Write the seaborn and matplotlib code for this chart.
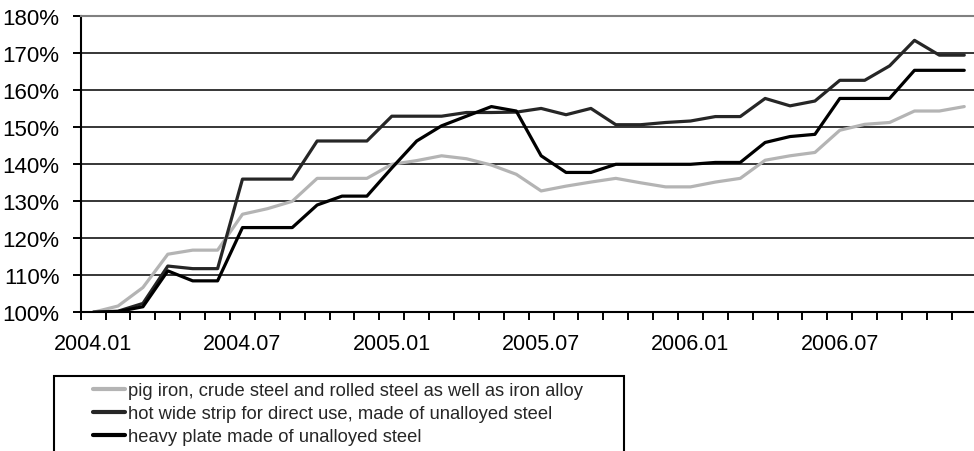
import numpy as np
import pandas as pd
import matplotlib
matplotlib.use('Agg')
import matplotlib.pyplot as plt
import seaborn as sns
from matplotlib.patches import Rectangle
from matplotlib.ticker import FuncFormatter


# data (index, 2004.01 = 100%)
months = [f'{y}.{m:02d}' for y in (2004, 2005, 2006) for m in range(1, 13)]

pig_iron = [100.0, 101.7, 106.7, 115.7, 116.8, 116.8, 126.5, 128.0, 130.0, 136.2, 136.2, 136.2,
            140.0, 141.0, 142.3, 141.5, 139.8, 137.3, 132.8, 134.1, 135.2, 136.2, 135.0, 133.9,
            133.9, 135.2, 136.2, 141.1, 142.3, 143.2, 149.2, 150.8, 151.3, 154.4, 154.4, 155.6]

hot_strip = [100.0, 100.3, 102.4, 112.5, 111.8, 111.8, 136.0, 136.0, 136.0, 146.3, 146.3, 146.3,
             153.0, 153.0, 153.0, 154.0, 154.0, 154.1, 155.1, 153.4, 155.1, 150.7, 150.7, 151.3,
             151.7, 152.9, 152.9, 157.8, 155.8, 157.1, 162.7, 162.7, 166.6, 173.5, 169.5, 169.5]

heavy_plate = [100.0, 100.2, 101.5, 111.2, 108.5, 108.5, 122.9, 122.9, 122.9, 129.0, 131.4, 131.4,
               139.0, 146.3, 150.4, 153.0, 155.6, 154.4, 142.3, 137.8, 137.8, 140.0, 140.0, 140.0,
               140.0, 140.5, 140.5, 145.9, 147.5, 148.1, 157.8, 157.8, 157.8, 165.4, 165.4, 165.4]

series_names = ['pig iron, crude steel and rolled steel as well as iron alloy',
                'hot wide strip for direct use, made of unalloyed steel',
                'heavy plate made of unalloyed steel']
series_colors = ['#b4b4b4', '#262626', '#000000']

label_months = months[::6]


sns.set_theme(style='white')
plt.rcParams['font.family'] = ['Liberation Sans', 'DejaVu Sans']

df = pd.DataFrame({
    'month': months * 3,
    'pos': list(range(len(months))) * 3,
    'value': pig_iron + hot_strip + heavy_plate,
    'series': [s for s in series_names for _ in months],
})

W, H = 974, 452
fig = plt.figure(figsize=(W / 100, H / 100), dpi=100)
fig.patch.set_facecolor('white')

# plot area in pixels: left 80.7, top 17.3, bottom 313.3, 36 categories of 24.9 px
ax = fig.add_axes([80.7 / W, 1 - 313.3 / H, 896 / W, 296 / H])

sns.lineplot(data=df, x='pos', y='value', hue='series', hue_order=series_names,
             palette=dict(zip(series_names, series_colors)),
             linewidth=2.3, ax=ax)

ax.set_xlim(-0.5, len(months) - 0.5)
ax.set_ylim(100, 180)
ax.set_xlabel('')
ax.set_ylabel('')

# horizontal gridlines
ax.set_yticks(np.arange(100, 181, 10))
ax.yaxis.set_major_formatter(FuncFormatter(lambda v, _: f'{v:.0f}%'))
for v in np.arange(110, 180, 10):
    ax.axhline(v, color='black', lw=1.1, zorder=0.5)

# category ticks between months, labels every 6 months
ax.set_xticks(np.arange(0, len(months), 6))
ax.set_xticklabels(label_months)
ax.set_xticks(np.arange(-0.5, len(months), 1), minor=True)
ax.tick_params(axis='x', which='major', length=0, pad=15, labelsize=15.5, colors='black')
ax.tick_params(axis='x', which='minor', length=5.8, width=1.4, direction='out',
               color='black', bottom=True)
ax.tick_params(axis='y', which='major', length=5.8, width=1.4, direction='out',
               pad=9.5, labelsize=16, colors='black', left=True)

ax.spines['left'].set_color('black')
ax.spines['left'].set_linewidth(1.5)
ax.spines['bottom'].set_color('black')
ax.spines['bottom'].set_linewidth(1.5)
ax.spines['top'].set_color('#808080')
ax.spines['top'].set_linewidth(1.5)
ax.spines['right'].set_visible(False)

# legend, with its own frame running off the bottom of the figure
handles, labels = ax.get_legend_handles_labels()
ax.get_legend().remove()
for h in handles:
    h.set_linewidth(3.0)
fig.legend(handles, labels,
           loc='upper left',
           bbox_to_anchor=(93.3 / W, 1 - 383 / H),
           frameon=False,
           fontsize=13.2,
           handlelength=1.73,
           handletextpad=0.18,
           labelspacing=0.34,
           borderpad=0,
           borderaxespad=0)

frame = Rectangle((54 / W, -0.2), (624 - 54) / W, (0.2 + 1 - 377.3 / H),
                  transform=fig.transFigure, fill=False,
                  edgecolor='black', linewidth=1.5, clip_on=False)
fig.patches.append(frame)

plt.savefig('out.png', dpi=100)
